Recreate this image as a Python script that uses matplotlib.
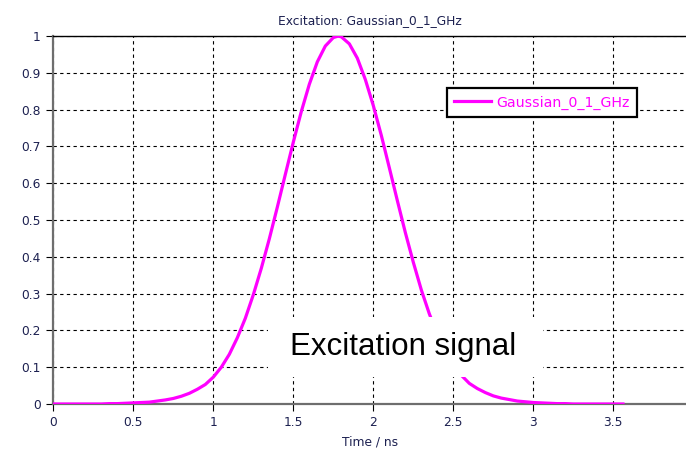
import matplotlib
matplotlib.use('Agg')
import matplotlib.pyplot as plt
from matplotlib.patches import Rectangle

# Excitation pulse, values
time_ns = [0.00, 0.05, 0.10, 0.15, 0.20, 0.25, 0.30, 0.35, 0.40, 0.45,
           0.50, 0.55, 0.60, 0.65, 0.70, 0.75, 0.80, 0.85, 0.90, 0.95,
           1.00, 1.05, 1.10, 1.15, 1.20, 1.25, 1.30, 1.35, 1.40, 1.45,
           1.50, 1.55, 1.60, 1.65, 1.70, 1.75, 1.78, 1.80, 1.85, 1.90,
           1.95, 2.00, 2.05, 2.10, 2.15, 2.20, 2.25, 2.30, 2.35, 2.40,
           2.45, 2.50, 2.55, 2.60, 2.65, 2.70, 2.75, 2.80, 2.85, 2.90,
           2.95, 3.00, 3.05, 3.10, 3.15, 3.20, 3.25, 3.30, 3.35, 3.40,
           3.45, 3.50, 3.55, 3.56]
amplitude = [0.000, 0.000, 0.000, 0.000, 0.000, 0.000, 0.000, 0.001, 0.001, 0.002,
             0.003, 0.004, 0.005, 0.008, 0.011, 0.015, 0.021, 0.029, 0.040, 0.053,
             0.073, 0.100, 0.135, 0.180, 0.233, 0.297, 0.369, 0.449, 0.535, 0.624,
             0.712, 0.795, 0.869, 0.930, 0.973, 0.996, 1.000, 0.998, 0.979, 0.940,
             0.882, 0.811, 0.730, 0.642, 0.553, 0.466, 0.385, 0.310, 0.245, 0.190,
             0.143, 0.106, 0.078, 0.056, 0.042, 0.031, 0.022, 0.016, 0.012, 0.008,
             0.006, 0.004, 0.003, 0.002, 0.001, 0.001, 0.000, 0.000, 0.000, 0.000,
             0.000, 0.000, 0.000, 0.000]

series_label = 'Gaussian_0_1_GHz'
x_ticks = [0, 0.5, 1, 1.5, 2, 2.5, 3, 3.5]
x_tick_labels = ['0', '0.5', '1', '1.5', '2', '2.5', '3', '3.5']
y_ticks = [0, 0.1, 0.2, 0.3, 0.4, 0.5, 0.6, 0.7, 0.8, 0.9, 1]
y_tick_labels = ['0', '0.1', '0.2', '0.3', '0.4', '0.5', '0.6', '0.7', '0.8', '0.9', '1']

label_color = '#1c2050'

fig = plt.figure(figsize=(6.86, 4.57), dpi=100)
ax = fig.add_axes([0.0777, 0.116, 0.9223, 0.805])

ax.plot(time_ns, amplitude, color='#ff00ff', lw=2.3, label=series_label, zorder=3)

ax.set_xlim(0, 3.954)
ax.set_ylim(0, 1)
ax.set_xticks(x_ticks)
ax.set_xticklabels(x_tick_labels)
ax.set_yticks(y_ticks)
ax.set_yticklabels(y_tick_labels)
ax.tick_params(axis='both', direction='out', length=5, width=0.8, color='black',
               labelsize=8.8, labelcolor=label_color, pad=4)

ax.grid(True, color='black', linestyle=(0, (3, 3)), linewidth=0.8)
ax.set_axisbelow(True)

for side in ['left', 'bottom']:
    ax.spines[side].set_color('#6e6e6e')
    ax.spines[side].set_linewidth(1.6)
ax.spines['top'].set_color('black')
ax.spines['top'].set_linewidth(1.0)
ax.spines['right'].set_visible(False)

ax.set_title('Excitation: ' + series_label, fontsize=8.8, color=label_color, pad=9)
ax.set_xlabel('Time / ns', fontsize=8.8, color=label_color, labelpad=4)

leg = ax.legend(loc='upper left', bbox_to_anchor=(0.622, 0.858), fontsize=10.2,
                frameon=True, fancybox=False, framealpha=1, labelcolor='#ff00ff',
                handlelength=2.6, handletextpad=0.4, borderpad=0.5, borderaxespad=0)
leg.get_frame().set_edgecolor('black')
leg.get_frame().set_linewidth(1.6)

# white annotation box covering part of the chart
box = Rectangle((268 / 686, 1 - 377 / 457), 275 / 686, 60 / 457,
                transform=fig.transFigure, facecolor='white', edgecolor='none',
                zorder=5, clip_on=False)
ax.add_patch(box)
ax.text(403 / 686, 1 - 347 / 457, 'Excitation signal', transform=fig.transFigure,
        ha='center', va='center', fontsize=22.5, family='Liberation Sans',
        color='black', zorder=6)

fig.savefig('out.png', dpi=100)
